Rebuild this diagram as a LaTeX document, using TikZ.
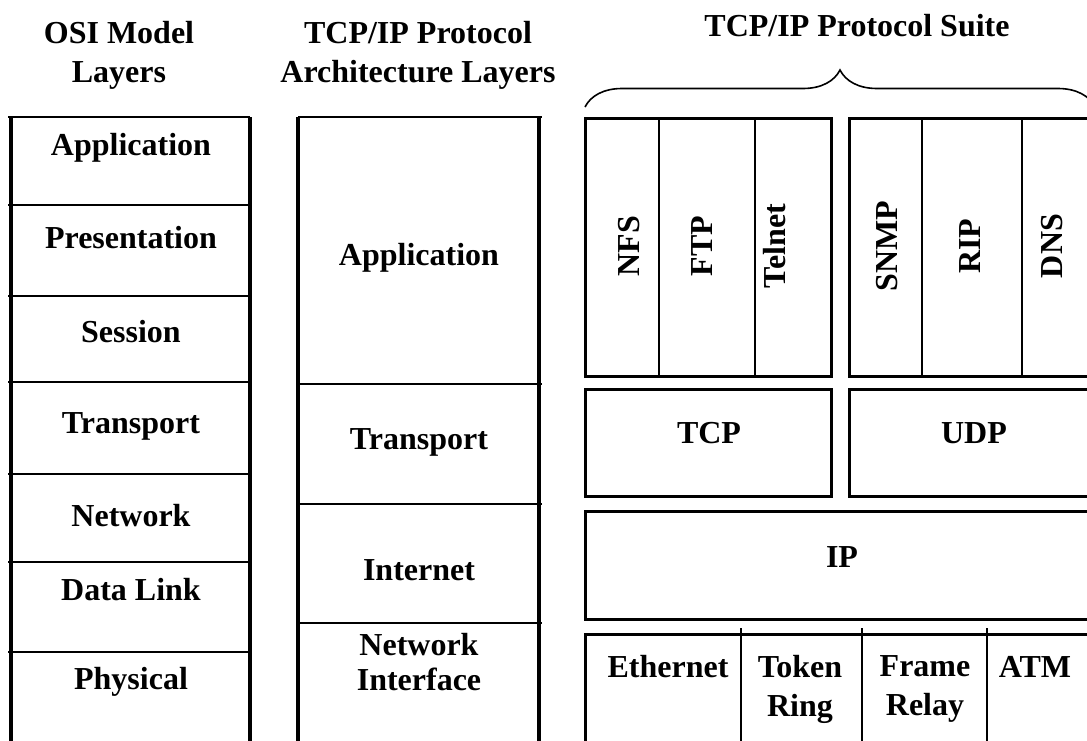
\documentclass[tikz,border=0pt]{standalone}
\usepackage{fontspec}
\setmainfont{Liberation Serif}
\usetikzlibrary{decorations.pathreplacing, positioning}

\begin{document}
\begin{tikzpicture}[x=0.5pt, y=-0.5pt,
    lbl/.style={font=\fontsize{16}{19.5}\selectfont\bfseries, align=center, inner sep=0pt},
    vlbl/.style={lbl, rotate=90},
    wall/.style={line width=2pt},
    sep/.style={line width=0.65pt},
    box/.style={draw, line width=1.5pt}]
    \useasboundingbox (0,0) rectangle (1087,740);

    % headings
    \node[lbl] (hosi) at (119,55) {OSI Model\\Layers};
    \node[lbl] (harch) at (418,55) {TCP/IP Protocol\\Architecture Layers};
    \node[lbl] (hsuite) at (857,26) {TCP/IP Protocol Suite};

    % OSI model column
    \draw[wall] (11,117) -- (11,750);
    \draw[wall] (250,117) -- (250,750);
    \foreach \y in {117,205,296,382,474,562,652}
        \draw[sep] (8,\y) -- (250,\y);
    \node[lbl] (osi7) at (131,148) {Application};
    \node[lbl] (osi6) at (131,238) {Presentation};
    \node[lbl] (osi5) at (131,332) {Session};
    \node[lbl] (osi4) at (131,426) {Transport};
    \node[lbl] (osi3) at (131,516) {Network};
    \node[lbl] (osi2) at (131,590) {Data Link};
    \node[lbl] (osi1) at (131,682) {Physical};

    % TCP/IP architecture column
    \draw[wall] (298,117) -- (298,750);
    \draw[wall] (539,117) -- (539,750);
    \foreach \y in {117,384,504,623}
        \draw[sep] (298,\y) -- (542,\y);
    \node[lbl] (arch4) at (419,258) {Application};
    \node[lbl] (arch3) at (419,442) {Transport};
    \node[lbl] (arch2) at (419,570) {Internet};
    \node[lbl, font=\fontsize{16}{17.5}\selectfont\bfseries] (arch1) at (419,662) {Network\\Interface};

    % protocol suite: application protocols
    \draw[box] (585,118) rectangle (831,376);
    \draw[box] (849,118) rectangle (1100,376);
    \foreach \x in {659,755,922,1022}
        \draw[sep] (\x,118) -- (\x,376);
    \node[vlbl] (nfs) at (629,246) {NFS};
    \node[vlbl] (ftp) at (702,246) {FTP};
    \node[vlbl] (telnet) at (775,246) {Telnet};
    \node[vlbl] (snmp) at (887,246) {SNMP};
    \node[vlbl] (rip) at (970,246) {RIP};
    \node[vlbl] (dns) at (1052,246) {DNS};

    % transport and internet
    \draw[box] (585,389) rectangle (831,496);
    \draw[box] (849,389) rectangle (1100,496);
    \node[lbl] (tcp) at (709,433) {TCP};
    \node[lbl] (udp) at (974,433) {UDP};
    \draw[box] (585,511) rectangle (1100,619);
    \node[lbl] (ip) at (842,557) {IP};

    % network interface
    \draw[line width=1.5pt] (585,750) -- (585,634) -- (1100,634);
    \foreach \x in {741,862,987}
        \draw[sep] (\x,628) -- (\x,750);
    \node[lbl] (eth) at (668,667) {Ethernet};
    \node[lbl] (token) at (800,689) {Token\\Ring};
    \node[lbl] (frame) at (925,689) {Frame\\Relay};
    \node[lbl] (atm) at (1035,667) {ATM};

    % brace over the suite
    \coordinate (bl) at (585,107);
    \coordinate (br) at (1095,107);
    \draw[line width=0.8pt, decorate, decoration={brace, amplitude=18.5pt}] (bl) -- (br);
\end{tikzpicture}
\end{document}
